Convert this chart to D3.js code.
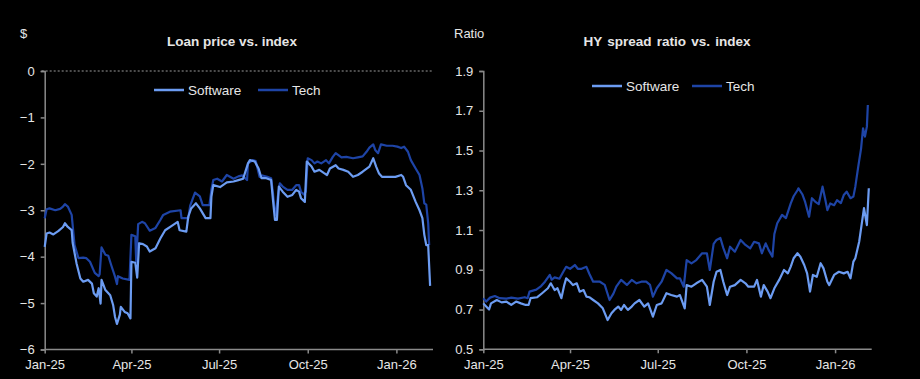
<!DOCTYPE html>
<html><head><meta charset="utf-8">
<script src="https://cdn.jsdelivr.net/npm/d3@7"></script>
<style>
html,body{margin:0;padding:0;background:#000;}
svg{display:block;}
text{font-family:"Liberation Sans",Arial,sans-serif;fill:#e6e6e6;}
</style></head>
<body><svg id="c" width="920" height="379"></svg>
<script>
// ---------- DATA ----------
const seriesNames = ["Software", "Tech"];
const xTickLabels = ["Jan-25", "Apr-25", "Jul-25", "Oct-25", "Jan-26"];
const xTickDates = ["2025-01-01", "2025-04-01", "2025-07-01", "2025-10-01", "2026-01-01"];
const xDomain = ["2025-01-01", "2026-02-08"];
const leftYTicks = [0, -1, -2, -3, -4, -5, -6];
const rightYTicks = [0.5, 0.7, 0.9, 1.1, 1.3, 1.5, 1.7, 1.9];

// Loan price vs. index — Tech
const loanTech = [
["2025-01-01",-3.17],["2025-01-03",-2.98],["2025-01-06",-2.96],["2025-01-12",-3.0],["2025-01-17",-2.97],
["2025-01-20",-2.92],["2025-01-22",-2.87],["2025-01-25",-2.92],["2025-01-29",-3.10],["2025-02-01",-3.75],
["2025-02-05",-4.03],["2025-02-10",-4.02],["2025-02-13",-4.03],["2025-02-17",-4.11],["2025-02-22",-4.35],
["2025-02-26",-4.42],["2025-02-27",-4.38],["2025-03-01",-3.80],["2025-03-05",-3.96],["2025-03-08",-3.98],
["2025-03-11",-4.18],["2025-03-15",-4.43],["2025-03-17",-4.59],["2025-03-18",-4.42],["2025-03-23",-4.47],
["2025-03-30",-4.50],["2025-04-01",-3.53],["2025-04-05",-3.56],["2025-04-06",-4.11],["2025-04-08",-3.30],
["2025-04-12",-3.25],["2025-04-15",-3.28],["2025-04-20",-3.44],["2025-04-26",-3.38],["2025-05-01",-3.21],
["2025-05-04",-3.10],["2025-05-11",-3.03],["2025-05-22",-3.00],["2025-05-23",-3.17],["2025-05-30",-3.17],
["2025-06-01",-2.90],["2025-06-06",-2.62],["2025-06-11",-2.70],["2025-06-14",-2.89],["2025-06-21",-2.89],
["2025-06-23",-2.56],["2025-06-25",-2.35],["2025-06-29",-2.32],["2025-07-04",-2.38],["2025-07-09",-2.24],
["2025-07-16",-2.32],["2025-07-21",-2.27],["2025-07-25",-2.25],["2025-07-30",-2.35],["2025-07-31",-1.99],
["2025-08-05",-1.92],["2025-08-08",-1.94],["2025-08-12",-2.28],["2025-08-15",-2.25],["2025-08-20",-2.28],
["2025-08-24",-2.31],["2025-08-26",-2.65],["2025-08-28",-3.07],["2025-08-29",-3.10],["2025-08-31",-2.70],
["2025-09-02",-2.42],["2025-09-05",-2.49],["2025-09-10",-2.56],["2025-09-15",-2.56],["2025-09-19",-2.46],
["2025-09-22",-2.46],["2025-09-24",-2.60],["2025-09-27",-2.66],["2025-09-29",-2.60],["2025-10-01",-1.88],
["2025-10-05",-1.92],["2025-10-08",-1.99],["2025-10-11",-1.95],["2025-10-15",-1.99],["2025-10-20",-1.92],
["2025-10-23",-1.99],["2025-10-27",-1.85],["2025-10-30",-1.77],["2025-11-05",-1.86],["2025-11-10",-1.85],
["2025-11-17",-1.88],["2025-11-22",-1.86],["2025-11-27",-1.84],["2025-12-01",-1.74],["2025-12-04",-1.65],
["2025-12-08",-1.58],["2025-12-10",-1.70],["2025-12-13",-1.77],["2025-12-16",-1.58],["2025-12-22",-1.61],
["2025-12-28",-1.61],["2026-01-02",-1.63],["2026-01-06",-1.66],["2026-01-09",-1.63],["2026-01-13",-1.74],
["2026-01-16",-1.92],["2026-01-21",-2.10],["2026-01-25",-2.24],["2026-01-28",-2.53],["2026-01-30",-2.85],
["2026-02-01",-2.88],["2026-02-03",-3.28],["2026-02-04",-3.75]
];
// Loan price vs. index — Software
const loanSoftware = [
["2025-01-01",-3.79],["2025-01-03",-3.50],["2025-01-06",-3.48],["2025-01-10",-3.52],["2025-01-15",-3.45],
["2025-01-20",-3.36],["2025-01-22",-3.28],["2025-01-25",-3.36],["2025-01-29",-3.43],["2025-01-30",-3.70],
["2025-02-03",-4.14],["2025-02-07",-4.47],["2025-02-10",-4.54],["2025-02-15",-4.50],["2025-02-19",-4.58],
["2025-02-21",-4.79],["2025-02-24",-4.86],["2025-02-26",-4.68],["2025-02-28",-5.01],["2025-03-01",-4.50],
["2025-03-05",-4.72],["2025-03-10",-4.83],["2025-03-13",-5.04],["2025-03-15",-5.30],["2025-03-17",-5.45],
["2025-03-20",-5.25],["2025-03-21",-5.08],["2025-03-25",-5.19],["2025-03-28",-5.22],["2025-03-31",-5.33],
["2025-04-01",-4.11],["2025-04-05",-4.13],["2025-04-07",-4.45],["2025-04-09",-3.71],["2025-04-13",-3.73],
["2025-04-17",-3.78],["2025-04-20",-3.89],["2025-04-26",-3.82],["2025-05-01",-3.61],["2025-05-06",-3.43],
["2025-05-14",-3.32],["2025-05-19",-3.25],["2025-05-21",-3.43],["2025-05-28",-3.46],["2025-05-30",-3.14],
["2025-06-02",-2.96],["2025-06-07",-2.85],["2025-06-11",-2.96],["2025-06-17",-3.17],["2025-06-22",-3.17],
["2025-06-23",-2.71],["2025-06-25",-2.46],["2025-07-02",-2.50],["2025-07-09",-2.40],["2025-07-16",-2.38],
["2025-07-21",-2.35],["2025-07-26",-2.32],["2025-07-31",-1.99],["2025-08-02",-1.92],["2025-08-07",-1.95],
["2025-08-11",-2.10],["2025-08-14",-2.31],["2025-08-19",-2.31],["2025-08-24",-2.35],["2025-08-26",-2.80],
["2025-08-28",-3.21],["2025-08-30",-3.21],["2025-09-01",-2.49],["2025-09-05",-2.60],["2025-09-10",-2.71],
["2025-09-15",-2.67],["2025-09-19",-2.56],["2025-09-22",-2.60],["2025-09-24",-2.74],["2025-09-28",-2.82],
["2025-09-30",-1.95],["2025-10-05",-2.06],["2025-10-08",-2.17],["2025-10-13",-2.13],["2025-10-18",-2.20],
["2025-10-21",-2.24],["2025-10-24",-2.10],["2025-10-30",-2.03],["2025-11-02",-2.10],["2025-11-07",-2.13],
["2025-11-12",-2.17],["2025-11-17",-2.28],["2025-11-22",-2.24],["2025-11-27",-2.17],["2025-12-04",-2.06],
["2025-12-08",-1.88],["2025-12-11",-2.06],["2025-12-14",-2.21],["2025-12-17",-2.28],["2025-12-24",-2.28],
["2025-12-31",-2.28],["2026-01-06",-2.24],["2026-01-08",-2.28],["2026-01-11",-2.46],["2026-01-16",-2.56],
["2026-01-21",-2.82],["2026-01-25",-3.00],["2026-01-28",-3.17],["2026-01-30",-3.53],["2026-02-01",-3.75],
["2026-02-03",-3.75],["2026-02-05",-4.63]
];
// HY spread ratio vs. index — Tech
const hyTech = [
["2025-01-01",0.757],["2025-01-04",0.74],["2025-01-08",0.76],["2025-01-13",0.768],["2025-01-18",0.757],
["2025-01-25",0.755],["2025-01-30",0.76],["2025-02-06",0.755],["2025-02-13",0.762],["2025-02-16",0.757],
["2025-02-18",0.79],["2025-02-25",0.80],["2025-03-02",0.818],["2025-03-06",0.84],["2025-03-11",0.874],
["2025-03-13",0.85],["2025-03-16",0.862],["2025-03-21",0.855],["2025-03-25",0.89],["2025-03-28",0.915],
["2025-04-01",0.905],["2025-04-06",0.924],["2025-04-09",0.905],["2025-04-13",0.905],["2025-04-18",0.915],
["2025-04-21",0.88],["2025-04-25",0.84],["2025-05-02",0.84],["2025-05-07",0.824],["2025-05-12",0.748],
["2025-05-16",0.78],["2025-05-19",0.815],["2025-05-24",0.849],["2025-05-30",0.824],["2025-06-04",0.849],
["2025-06-09",0.832],["2025-06-14",0.84],["2025-06-19",0.84],["2025-06-23",0.824],["2025-06-26",0.765],
["2025-06-30",0.807],["2025-07-05",0.84],["2025-07-10",0.899],["2025-07-15",0.883],["2025-07-21",0.857],
["2025-07-24",0.857],["2025-07-28",0.815],["2025-07-31",0.949],["2025-08-05",0.932],["2025-08-10",0.949],
["2025-08-16",0.983],["2025-08-21",0.983],["2025-08-24",0.899],["2025-08-28",1.03],["2025-08-31",1.05],
["2025-09-04",1.06],["2025-09-07",1.01],["2025-09-11",0.958],["2025-09-14",1.016],["2025-09-19",0.991],
["2025-09-25",1.05],["2025-09-30",1.025],["2025-10-05",1.008],["2025-10-09",1.041],["2025-10-14",1.033],
["2025-10-17",0.983],["2025-10-21",1.033],["2025-10-24",1.0],["2025-10-28",0.966],["2025-10-30",1.08],
["2025-11-02",1.134],["2025-11-07",1.176],["2025-11-11",1.16],["2025-11-16",1.234],["2025-11-19",1.27],
["2025-11-23",1.30],["2025-11-24",1.31],["2025-11-28",1.28],["2025-12-01",1.24],["2025-12-05",1.167],
["2025-12-08",1.26],["2025-12-12",1.24],["2025-12-15",1.23],["2025-12-19",1.318],["2025-12-22",1.25],
["2025-12-24",1.20],["2025-12-27",1.234],["2025-12-31",1.225],["2026-01-03",1.25],["2026-01-07",1.235],
["2026-01-10",1.276],["2026-01-13",1.293],["2026-01-17",1.26],["2026-01-20",1.268],["2026-01-22",1.318],
["2026-01-25",1.418],["2026-01-28",1.511],["2026-01-30",1.612],["2026-02-01",1.57],["2026-02-03",1.62],
["2026-02-04",1.729]
];
// HY spread ratio vs. index — Software
const hySoftware = [
["2025-01-01",0.731],["2025-01-04",0.715],["2025-01-07",0.70],["2025-01-09",0.731],["2025-01-15",0.748],
["2025-01-20",0.736],["2025-01-25",0.74],["2025-01-30",0.723],["2025-02-04",0.74],["2025-02-09",0.731],
["2025-02-14",0.723],["2025-02-17",0.723],["2025-02-19",0.757],["2025-02-26",0.762],["2025-03-03",0.782],
["2025-03-09",0.807],["2025-03-12",0.832],["2025-03-16",0.798],["2025-03-19",0.807],["2025-03-23",0.757],
["2025-03-26",0.823],["2025-03-28",0.857],["2025-04-01",0.84],["2025-04-04",0.823],["2025-04-08",0.832],
["2025-04-11",0.79],["2025-04-15",0.798],["2025-04-18",0.765],["2025-04-21",0.762],["2025-04-25",0.748],
["2025-04-30",0.731],["2025-05-05",0.706],["2025-05-10",0.647],["2025-05-14",0.681],["2025-05-17",0.698],
["2025-05-21",0.715],["2025-05-24",0.698],["2025-05-27",0.723],["2025-05-31",0.698],["2025-06-04",0.715],
["2025-06-07",0.731],["2025-06-12",0.748],["2025-06-17",0.715],["2025-06-21",0.731],["2025-06-26",0.664],
["2025-06-30",0.723],["2025-07-05",0.731],["2025-07-10",0.782],["2025-07-15",0.773],["2025-07-21",0.765],
["2025-07-24",0.773],["2025-07-29",0.706],["2025-07-31",0.823],["2025-08-05",0.815],["2025-08-10",0.832],
["2025-08-16",0.849],["2025-08-21",0.815],["2025-08-24",0.723],["2025-08-28",0.84],["2025-08-31",0.89],
["2025-09-04",0.899],["2025-09-07",0.84],["2025-09-11",0.773],["2025-09-14",0.815],["2025-09-19",0.823],
["2025-09-25",0.849],["2025-09-30",0.832],["2025-10-03",0.815],["2025-10-09",0.815],["2025-10-12",0.849],
["2025-10-16",0.765],["2025-10-19",0.823],["2025-10-23",0.79],["2025-10-26",0.757],["2025-10-30",0.807],
["2025-11-04",0.849],["2025-11-09",0.899],["2025-11-13",0.882],["2025-11-16",0.916],["2025-11-19",0.958],
["2025-11-23",0.983],["2025-11-26",0.966],["2025-11-30",0.924],["2025-12-03",0.882],["2025-12-06",0.79],
["2025-12-09",0.874],["2025-12-13",0.865],["2025-12-17",0.933],["2025-12-20",0.907],["2025-12-24",0.84],
["2025-12-26",0.823],["2025-12-31",0.874],["2026-01-05",0.89],["2026-01-10",0.882],["2026-01-14",0.89],
["2026-01-17",0.857],["2026-01-20",0.941],["2026-01-22",0.958],["2026-01-26",1.041],["2026-01-29",1.142],
["2026-01-31",1.21],["2026-02-03",1.125],["2026-02-05",1.31]
];

// ---------- DRAW ----------
const parse = d3.timeParse("%Y-%m-%d");
const svg = d3.select("#c");
const colSoft = "#6c9cf2", colTech = "#1e44a6";
const axisCol = "#8a8a8a";
const FONT = "'Liberation Sans', Arial, sans-serif";

function panel(cfg) {
  const x = d3.scaleTime().domain(xDomain.map(parse)).range([cfg.x0, cfg.x1]);
  const y = d3.scaleLinear().domain(cfg.yDomain).range([cfg.yb, cfg.yt]);
  const g = svg.append("g");

  // y axis
  const ya = g.append("g").attr("transform", `translate(${cfg.x0},0)`)
    .call(d3.axisLeft(y).tickValues(cfg.yTicks).tickSize(4).tickPadding(6).tickFormat(cfg.yFmt));
  ya.select(".domain").attr("stroke", axisCol).attr("stroke-width", 1.5);
  ya.selectAll(".tick line").attr("stroke", axisCol).attr("stroke-width", 1.5);
  ya.selectAll(".tick text").attr("fill", "#e6e6e6").style("font-size", "13px").style("font-family", FONT);

  // x axis
  const xa = g.append("g").attr("transform", `translate(0,${cfg.yb})`)
    .call(d3.axisBottom(x).tickValues(xTickDates.map(parse)).tickSize(4).tickPadding(6)
      .tickFormat((d, i) => xTickLabels[i]));
  xa.select(".domain").attr("stroke", axisCol).attr("stroke-width", 1.5).attr("d", `M${cfg.x0},0H${cfg.x1}`);
  xa.selectAll(".tick line").attr("stroke", axisCol).attr("stroke-width", 1.5);
  xa.selectAll(".tick text").attr("fill", "#e6e6e6").style("font-size", "13px").style("font-family", FONT);

  if (cfg.zeroLine) {
    g.append("line").attr("x1", cfg.x0 - 3).attr("x2", cfg.x1)
      .attr("y1", y(0)).attr("y2", y(0))
      .attr("stroke", "#9a9a9a").attr("stroke-width", 1).attr("stroke-dasharray", "2,2");
  }

  const line = d3.line().x(d => x(parse(d[0]))).y(d => y(d[1]));
  g.append("path").datum(cfg.tech).attr("d", line).attr("fill", "none")
    .attr("stroke", colTech).attr("stroke-width", 2.2).attr("stroke-linejoin", "round");
  g.append("path").datum(cfg.soft).attr("d", line).attr("fill", "none")
    .attr("stroke", colSoft).attr("stroke-width", 2.2).attr("stroke-linejoin", "round");

  // titles
  g.append("text").attr("x", cfg.unitX).attr("y", 38).text(cfg.unit).style("font-size", "13px");
  g.append("text").attr("x", cfg.titleX).attr("y", 46).attr("text-anchor", "middle")
    .style("font-size", "13.5px").style("font-weight", "bold").style("word-spacing", cfg.ws || "0px").text(cfg.title);

  // legend
  const lg = g.append("g");
  cfg.legend.forEach((L, i) => {
    lg.append("line").attr("x1", L.x).attr("x2", L.x + 30).attr("y1", cfg.legY).attr("y2", cfg.legY)
      .attr("stroke", i === 0 ? colSoft : colTech).attr("stroke-width", 2.5);
    lg.append("text").attr("x", L.x + 34).attr("y", cfg.legY + 5).style("font-size", "13.5px").text(seriesNames[i]);
  });
}

panel({
  x0: 44.7, x1: 433, yt: 71, yb: 349.5, yDomain: [-6, 0], yTicks: leftYTicks, yFmt: d3.format("d"),
  zeroLine: true, tech: loanTech, soft: loanSoftware,
  unit: "$", unitX: 20, title: "Loan price vs. index", titleX: 232,
  legY: 90, legend: [{x: 154}, {x: 258}]
});
panel({
  x0: 483.3, x1: 871.7, yt: 71, yb: 349.3, yDomain: [0.5, 1.9], yTicks: rightYTicks, yFmt: d3.format(".1f"),
  zeroLine: false, tech: hyTech, soft: hySoftware,
  unit: "Ratio", unitX: 454, title: "HY spread ratio vs. index", titleX: 667, ws: "1.5px",
  legY: 86, legend: [{x: 592}, {x: 692}]
});
</script>
</body></html>
